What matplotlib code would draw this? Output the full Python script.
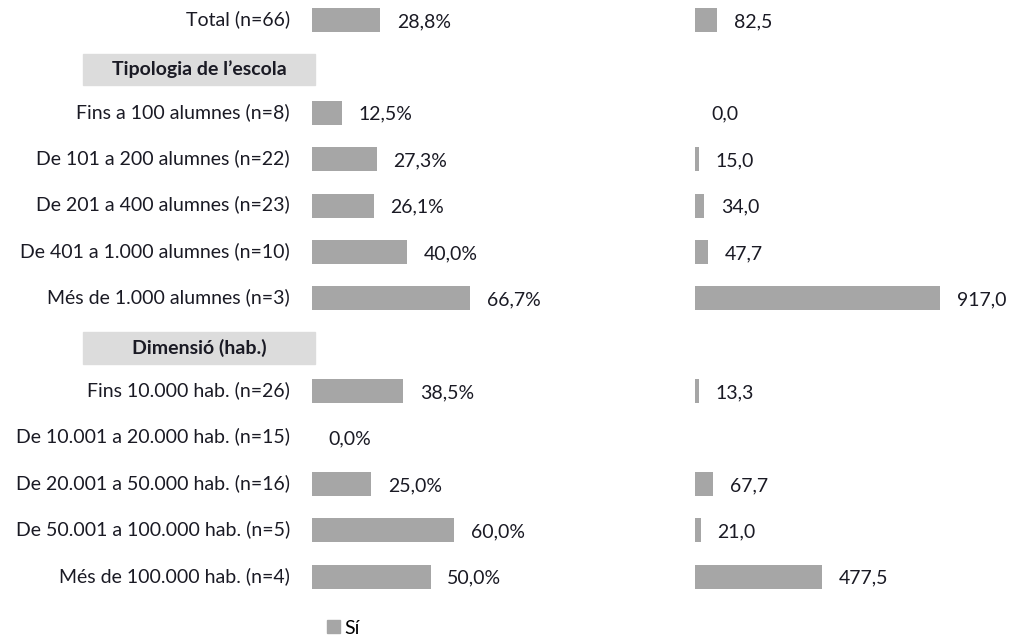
import matplotlib.pyplot as plt
from matplotlib.patches import Rectangle
from matplotlib.transforms import blended_transform_factory
import numpy as np

# rows, top to bottom (None label = section header)
labels = ["Total (n=66)",
          None,
          "Fins a 100 alumnes (n=8)",
          "De 101 a 200 alumnes (n=22)",
          "De 201 a 400 alumnes (n=23)",
          "De 401 a 1.000 alumnes (n=10)",
          "Més de 1.000 alumnes (n=3)",
          None,
          "Fins 10.000 hab. (n=26)",
          "De 10.001 a 20.000 hab. (n=15)",
          "De 20.001 a 50.000 hab. (n=16)",
          "De 50.001 a 100.000 hab. (n=5)",
          "Més de 100.000 hab. (n=4)"]
headers = {1: "Tipologia de l\u2019escola", 7: "Dimensió (hab.)"}
pct_si = [28.8, None, 12.5, 27.3, 26.1, 40.0, 66.7, None, 38.5, 0.0, 25.0, 60.0, 50.0]
mitjana = [82.5, None, 0.0, 15.0, 34.0, 47.7, 917.0, None, 13.3, None, 67.7, 21.0, 477.5]

bar_col = "#a6a6a6"
txt_col = "#1a1a24"
plt.rcParams['font.family'] = ['Lato', 'DejaVu Sans']
fs = 14

W, H = 1010, 638
fig = plt.figure(figsize=(W / 100, H / 100), dpi=100)

row0, step = 20, 46.4
ylim = ((H - row0) / step, -row0 / step)

axL = fig.add_axes([312 / W, 0, 237 / W, 1])
axR = fig.add_axes([695 / W, 0, 267 / W, 1])
axL.set_xlim(0, 100)
axR.set_xlim(0, 1000)
for ax in (axL, axR):
    ax.set_ylim(*ylim)
    ax.axis("off")

for i in range(len(labels)):
    v = pct_si[i]
    if v is not None:
        if v > 0:
            axL.barh(i, v, height=0.52, color=bar_col)
        axL.annotate(f"{v:.1f}%".replace(".", ","), (v, i), xytext=(12, -1),
                     textcoords="offset points", va="center", ha="left",
                     fontsize=fs, color=txt_col)
    m = mitjana[i]
    if m is not None:
        if m > 0:
            axR.barh(i, m, height=0.52, color=bar_col)
        axR.annotate(f"{m:.1f}".replace(".", ","), (m, i), xytext=(12, -1),
                     textcoords="offset points", va="center", ha="left",
                     fontsize=fs, color=txt_col)

tr = blended_transform_factory(fig.transFigure, axL.transData)
for i, lab in enumerate(labels):
    if lab is not None:
        t = fig.text(290 / W, 0, lab, transform=tr, ha="right", va="center",
                     fontsize=fs, color=txt_col)
        t.set_y(i - 0.02)
for i, h in headers.items():
    fig.patches.append(Rectangle((83 / W, i - 0.27), 232 / W, 0.68,
                                 transform=tr, color="#dcdcdc", zorder=0))
    t = fig.text(199 / W, 0, h, transform=tr, ha="center", va="center",
                 fontsize=fs, fontweight="bold", color=txt_col)
    t.set_y(i + 0.06)

fig.legend(handles=[Rectangle((0, 0), 1, 1, color=bar_col)], labels=["Sí"],
           loc="center left", bbox_to_anchor=(327 / W, 1 - 628 / H),
           frameon=False, handlelength=0.65, handleheight=0.65,
           handletextpad=0.25, borderaxespad=0, borderpad=0, fontsize=fs)

fig.savefig("out.png", dpi=100)
